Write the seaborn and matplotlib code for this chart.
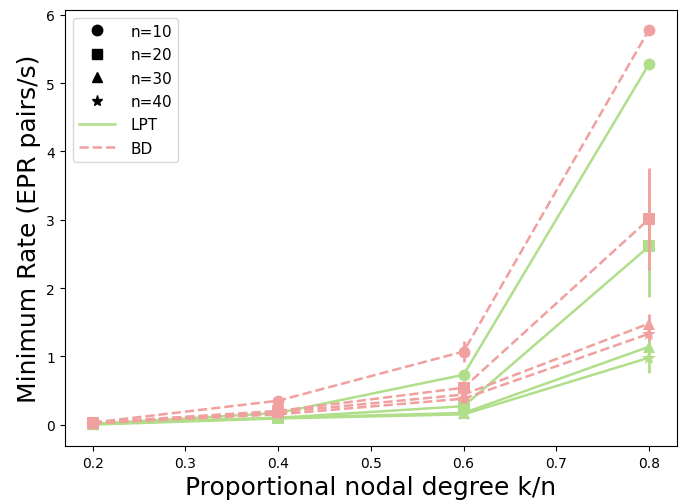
import numpy as np
import pandas as pd
import matplotlib
matplotlib.use("Agg")
import matplotlib.pyplot as plt
import seaborn as sns
from matplotlib.lines import Line2D

# Proportional nodal degree k/n
k_ratio = [0.2, 0.4, 0.6, 0.8]
network_sizes = [10, 20, 30, 40]

# Minimum rate (EPR pairs/s), mean per network size
lpt_rate = {
    10: [0.01, 0.17, 0.73, 5.28],
    20: [0.01, 0.10, 0.27, 2.61],
    30: [0.01, 0.10, 0.17, 1.14],
    40: [0.00, 0.09, 0.15, 0.98],
}
bd_rate = {
    10: [0.03, 0.35, 1.07, 5.78],
    20: [0.03, 0.20, 0.54, 3.01],
    30: [0.02, 0.18, 0.44, 1.48],
    40: [0.02, 0.15, 0.38, 1.33],
}
# Standard deviations
lpt_err = {
    10: [0.01, 0.02, 0.05, 0.04],
    20: [0.01, 0.02, 0.06, 0.74],
    30: [0.01, 0.02, 0.04, 0.15],
    40: [0.01, 0.02, 0.03, 0.22],
}
bd_err = {
    10: [0.02, 0.04, 0.15, 0.04],
    20: [0.02, 0.03, 0.10, 0.74],
    30: [0.02, 0.03, 0.08, 0.14],
    40: [0.02, 0.03, 0.06, 0.10],
}

markers = {10: "o", 20: "s", 30: "^", 40: "*"}
marker_sizes = {10: 8.5, 20: 8, 30: 8.5, 40: 10}
legend_marker_sizes = {10: 7.5, 20: 7, 30: 7.5, 40: 8}
lpt_color = "#b0de8a"
bd_color = "#f0a09e"

fig, ax = plt.subplots(figsize=(6.83, 5.02), dpi=100)
fig.subplots_adjust(left=0.095, right=0.991, top=0.978, bottom=0.11)

methods = [("LPT", lpt_rate, lpt_err, lpt_color, "-"),
           ("BD", bd_rate, bd_err, bd_color, "--")]

for name, rates, errs, color, ls in methods:
    for n in network_sizes:
        df = pd.DataFrame({"k": k_ratio, "rate": rates[n]})
        sns.lineplot(data=df, x="k", y="rate", ax=ax, color=color,
                     marker=markers[n], markersize=marker_sizes[n],
                     markeredgewidth=0, linestyle=ls, linewidth=1.8,
                     legend=False)
        ax.errorbar(k_ratio, rates[n], yerr=errs[n], fmt="none",
                    ecolor=color, elinewidth=2, capsize=0)

handles = [Line2D([], [], color="black", marker=markers[n], linestyle="none",
                  markersize=legend_marker_sizes[n], label=f"n={n}")
           for n in network_sizes]
handles.append(Line2D([], [], color=lpt_color, linestyle="-", linewidth=1.8, label="LPT"))
handles.append(Line2D([], [], color=bd_color, linestyle="--", linewidth=1.8, label="BD"))
ax.legend(handles=handles, loc="upper left", fontsize=11, handlelength=2.4,
          handletextpad=1.0, labelspacing=0.55)

ax.set_xlim(0.17, 0.83)
ax.set_ylim(-0.31, 6.07)
ax.set_xticks([0.2, 0.3, 0.4, 0.5, 0.6, 0.7, 0.8])
ax.set_xlabel("Proportional nodal degree k/n", fontsize=18)
ax.set_ylabel("Minimum Rate (EPR pairs/s)", fontsize=18)
ax.tick_params(labelsize=10)

fig.savefig("out.png", dpi=100)
